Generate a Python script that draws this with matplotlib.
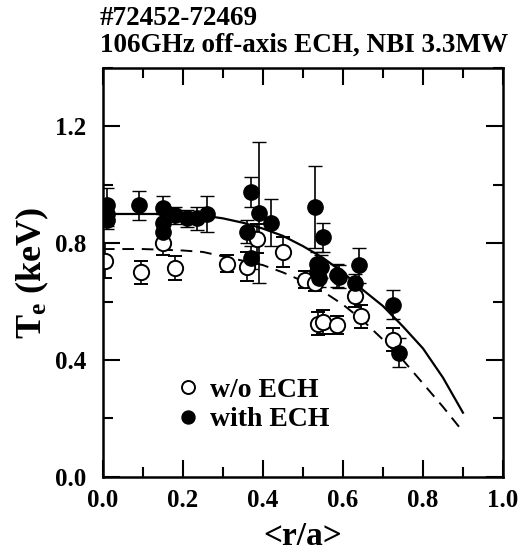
import matplotlib
matplotlib.use('Agg')
import matplotlib.pyplot as plt
from matplotlib.ticker import MultipleLocator

plt.rcParams['font.family'] = ['Liberation Serif', 'DejaVu Serif']
plt.rcParams['font.weight'] = 'bold'
plt.rcParams['mathtext.fontset'] = 'custom'
plt.rcParams['mathtext.rm'] = 'Liberation Serif:bold'
plt.rcParams['mathtext.it'] = 'Liberation Serif:bold'

# with ECH (filled circles)
x_ech = [0.01, 0.01, 0.01, 0.09, 0.15, 0.15, 0.15, 0.18, 0.21, 0.235, 0.26,
         0.36, 0.37, 0.37, 0.39, 0.42, 0.53, 0.535, 0.535, 0.54, 0.545, 0.55,
         0.585, 0.59, 0.63, 0.64, 0.725, 0.74]
y_ech = [0.93, 0.90, 0.88, 0.93, 0.92, 0.87, 0.84, 0.895, 0.885, 0.885, 0.90,
         0.84, 0.975, 0.75, 0.905, 0.87, 0.925, 0.73, 0.70, 0.68, 0.72, 0.82,
         0.69, 0.685, 0.665, 0.725, 0.59, 0.425]
e_ech = [0.06, 0.04, 0.03, 0.05, 0.04, 0.03, 0.03, 0.03, 0.03, 0.04, 0.06,
         0.04, 0.05, 0.04, 0.24, 0.08, 0.14, 0.04, 0.03, 0.03, 0.04, 0.05,
         0.04, 0.04, 0.03, 0.06, 0.05, 0.05]

# without ECH (open circles)
x_wo = [0.005, 0.095, 0.15, 0.18, 0.31, 0.36, 0.385, 0.45, 0.505, 0.53,
        0.538, 0.55, 0.585, 0.63, 0.645, 0.725]
y_wo = [0.74, 0.70, 0.80, 0.715, 0.73, 0.72, 0.815, 0.77, 0.675, 0.665,
        0.525, 0.53, 0.52, 0.62, 0.55, 0.47]
e_wo = [0.06, 0.04, 0.04, 0.04, 0.03, 0.05, 0.05, 0.05, 0.03, 0.03,
        0.04, 0.04, 0.03, 0.04, 0.04, 0.04]

# fitted profiles
x_fit = [0.0, 0.1, 0.2, 0.25, 0.3, 0.35, 0.4, 0.45, 0.5, 0.55, 0.6, 0.65,
         0.7, 0.75, 0.8, 0.85, 0.9]
y_fit_ech = [0.90, 0.90, 0.90, 0.895, 0.885, 0.87, 0.85, 0.825, 0.79, 0.75,
             0.70, 0.64, 0.585, 0.515, 0.44, 0.34, 0.22]
y_fit_wo = [0.78, 0.78, 0.775, 0.77, 0.755, 0.74, 0.725, 0.70, 0.67, 0.635,
            0.59, 0.535, 0.47, 0.40, 0.32, 0.24, 0.155]

fig = plt.figure(figsize=(5.25, 5.52), dpi=100)
ax = fig.add_axes([0.196, 0.136, 0.762, 0.741])

ax.plot(x_fit, y_fit_ech, '-', color='black', lw=1.6)
ax.plot(x_fit, y_fit_wo, '--', color='black', lw=1.4, dashes=(6, 4))

ax.errorbar(x_wo, y_wo, yerr=e_wo, fmt='o', mfc='white', mec='black',
            ecolor='black', ms=11, mew=1.4, elinewidth=1.2, capsize=5,
            capthick=1.4, label='w/o ECH')
ax.errorbar(x_ech, y_ech, yerr=e_ech, fmt='o', mfc='black', mec='black',
            ecolor='black', ms=11, mew=1.0, elinewidth=1.2, capsize=5,
            capthick=1.4, label='with ECH')

ax.set_xlim(0, 1.0)
ax.set_ylim(0, 1.4)
ax.xaxis.set_major_locator(MultipleLocator(0.2))
ax.xaxis.set_minor_locator(MultipleLocator(0.1))
ax.yaxis.set_major_locator(MultipleLocator(0.4))
ax.yaxis.set_minor_locator(MultipleLocator(0.2))
ax.set_yticks([0.0, 0.4, 0.8, 1.2])
ax.tick_params(which='both', direction='in', top=True, right=True,
               width=1.5, labelsize=18)
ax.tick_params(axis='x', pad=9)
ax.tick_params(axis='y', pad=12)
ax.tick_params(which='major', length=12)
ax.tick_params(which='minor', length=7)
for s in ax.spines.values():
    s.set_linewidth(1.8)

ax.set_xlabel('<r/a>', fontsize=24, fontweight='bold', labelpad=6)
ax.set_ylabel(r'$\mathrm{T_e}$ (keV)', fontsize=26, fontweight='bold',
              labelpad=3)

handles, labels = ax.get_legend_handles_labels()
handles = [h[0] for h in handles]
ax.legend(handles, labels, loc='lower left', bbox_to_anchor=(0.13, 0.048),
          frameon=False, fontsize=20, handlelength=0.6, handletextpad=0.5,
          labelspacing=0.15, markerscale=0.85)

fig.text(0.19, 0.967, '#72452-72469', fontsize=19.5, fontweight='bold',
         va='center', ha='left')
fig.text(0.19, 0.918, '106GHz off-axis ECH, NBI 3.3MW', fontsize=19.5,
         fontweight='bold', va='center', ha='left')

fig.savefig('out.png', dpi=100)
